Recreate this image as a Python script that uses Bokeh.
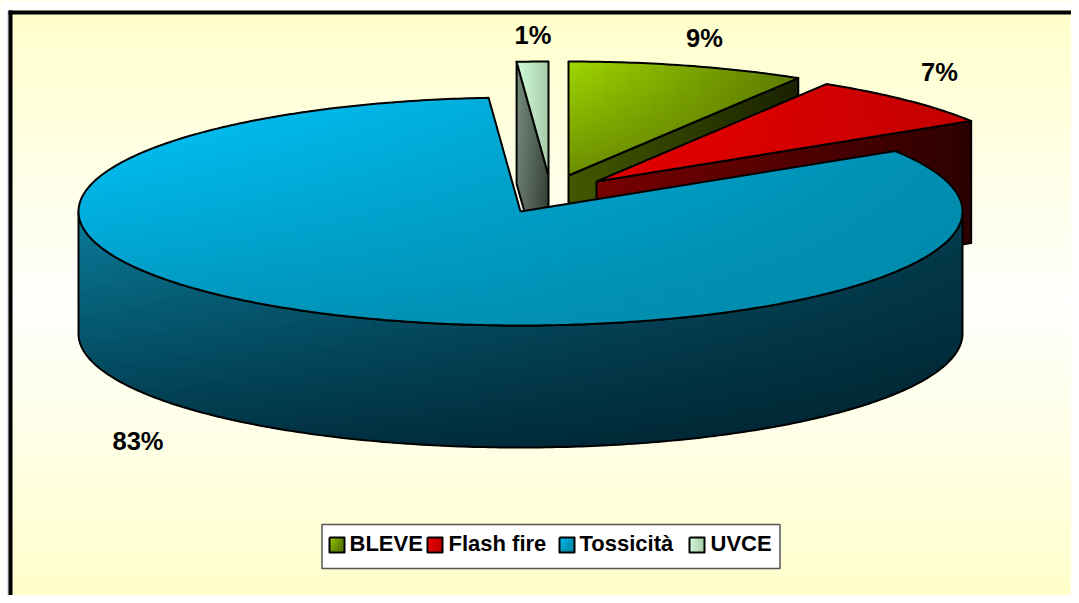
import math
from bokeh.plotting import figure
from bokeh.models import Range1d
from bokeh.core.properties import value
from bokeh.embed import file_html
from bokeh.resources import INLINE

categories = ["BLEVE", "Flash fire", "Tossicità", "UVCE"]
shares = [8.7, 7.4, 82.75, 1.15]
labels = ["9%", "7%", "83%", "1%"]

# layout: one data unit is one pixel of the picture
W, H = 1071, 595
CX, CY, RX, RY, DEPTH = 520.0, 211.0, 442.0, 114.0, 122.0
EXPLODE = {"BLEVE": (48, -36), "Flash fire": (76, -30), "Tossicità": (0, 0), "UVCE": (28, -36)}
TOP = {
    "BLEVE": ("#A0D800", "#5E7C00", "#6C8E00", "#587400"),
    "Flash fire": ("#F00000", "#C00000", "#E00000", "#C80000"),
    "Tossicità": ("#00C8FF", "#0090B4", "#0095BC", "#0088A8"),
    "UVCE": ("#D0FFD8", "#A8CCA8", "#D8F4E0", "#A8CCA8"),
}
WALL = {
    "BLEVE": ("#445800", "#1A2200", "#445800", "#1A2200"),
    "Flash fire": ("#780000", "#2C0000", "#780000", "#2C0000"),
    "Tossicità": ("#0A7C9A", "#033C4E", "#003446", "#00202C"),
    "UVCE": ("#7A9080", "#485850", "#606E64", "#283028"),
}
CELL = {"BLEVE": 6, "Flash fire": 6, "Tossicità": 8, "UVCE": 2}

p = figure(width=W, height=H, output_backend="svg", toolbar_location=None,
           x_range=Range1d(0, W), y_range=Range1d(H, 0), min_border=0,
           outline_line_color=None, background_fill_color="#FFFFCC",
           border_fill_color=None)
p.xaxis.visible = False
p.yaxis.visible = False
p.xgrid.visible = False
p.ygrid.visible = False


def hexrgb(c):
    return tuple(int(c[i:i + 2], 16) for i in (1, 3, 5))


def clip(poly, axis, lim, keep_greater):
    out = []
    n = len(poly)
    for i in range(n):
        a, b = poly[i], poly[(i + 1) % n]
        ina = a[axis] >= lim if keep_greater else a[axis] <= lim
        inb = b[axis] >= lim if keep_greater else b[axis] <= lim
        if ina:
            out.append(a)
        if ina != inb:
            t = (lim - a[axis]) / (b[axis] - a[axis])
            out.append((a[0] + t * (b[0] - a[0]), a[1] + t * (b[1] - a[1])))
    return out


def area(poly):
    return abs(sum(poly[i][0] * poly[(i + 1) % len(poly)][1] - poly[(i + 1) % len(poly)][0] * poly[i][1]
                   for i in range(len(poly)))) / 2


def shaded(poly, corners, cell=8):
    xs0 = [q[0] for q in poly]
    ys0 = [q[1] for q in poly]
    x0, x1, y0, y1 = min(xs0), max(xs0), min(ys0), max(ys0)
    c = [hexrgb(k) for k in corners]
    xs, ys, cols = [], [], []
    x = x0
    while x < x1:
        col = clip(clip(poly, 0, x, True), 0, x + cell, False)
        if col:
            y = y0
            while y < y1:
                piece = clip(clip(col, 1, y, True), 1, y + cell, False)
                if len(piece) > 2 and area(piece) > 0.01:
                    u = min(1, (x + cell / 2 - x0) / max(x1 - x0, 1))
                    v = min(1, (y + cell / 2 - y0) / max(y1 - y0, 1))
                    rgb = [round((1 - u) * (1 - v) * c[0][k] + u * (1 - v) * c[1][k]
                                 + (1 - u) * v * c[2][k] + u * v * c[3][k]) for k in range(3)]
                    xs.append([q[0] for q in piece])
                    ys.append([q[1] for q in piece])
                    cols.append("#%02X%02X%02X" % tuple(rgb))
                y += cell
        x += cell
    p.patches(xs, ys, fill_color=cols, line_color=cols, line_width=1)
    px = xs0 + xs0[:1]
    py = ys0 + ys0[:1]
    p.line(px, py, line_color="#000000", line_width=2, line_join="round")


def pt(theta, ox, oy, dz=0.0):
    t = math.radians(theta)
    return (CX + ox + RX * math.sin(t), CY + oy - RY * math.cos(t) + dz)


def arc(a, b, ox, oy, dz=0.0):
    n = max(2, int(abs(b - a) * 1.5))
    return [pt(a + (b - a) * i / n, ox, oy, dz) for i in range(n + 1)]


# background: pale yellow to white and back
band = 6
ys_bg = list(range(0, H + 1, band))
bg_cols = []
for y in ys_bg:
    f = min(1.0, abs(y - 300) / 290.0)
    bg_cols.append("#FFFF%02X" % round(255 - f * (255 - 0xCC)))
p.quad(left=8, right=W, top=ys_bg, bottom=[y + band for y in ys_bg], fill_color=bg_cols, line_color=None)
p.quad(left=[0], right=[8], top=[0], bottom=[H], fill_color="#FFFFFF", line_color=None)
p.quad(left=[8], right=[W], top=[0], bottom=[10], fill_color="#FFFFFF", line_color=None)

# slice angles, clockwise from twelve o'clock, from the shares
angles = {}
run = 0.0
for name, s in zip(categories, shares):
    angles[name] = (run, run + s * 3.6)
    run += s * 3.6


def apex(name, dz=0.0):
    ox, oy = EXPLODE[name]
    return (CX + ox, CY + oy + dz)


def draw_radial_wall(name, theta):
    ox, oy = EXPLODE[name]
    poly = [apex(name), pt(theta, ox, oy), pt(theta, ox, oy, DEPTH), apex(name, DEPTH)]
    shaded(poly, WALL[name], CELL[name])


def draw_top(name):
    a, b = angles[name]
    ox, oy = EXPLODE[name]
    shaded([apex(name)] + arc(a, b, ox, oy), TOP[name], CELL[name])


# back to front
draw_radial_wall("BLEVE", angles["BLEVE"][1])
draw_top("BLEVE")
draw_radial_wall("UVCE", angles["UVCE"][0])
draw_top("UVCE")
draw_radial_wall("Flash fire", angles["Flash fire"][1])
draw_top("Flash fire")

front = arc(90, 270, 0, 0) + arc(270, 90, 0, 0, DEPTH)
shaded(front, WALL["Tossicità"], CELL["Tossicità"])
draw_top("Tossicità")

# percentage labels
label_at = {"BLEVE": (704, 37.5), "Flash fire": (939, 71.5), "Tossicità": (137.5, 440.5), "UVCE": (532.5, 34.5)}
for name, text in zip(categories, labels):
    x, y = label_at[name]
    p.text([x], [y], text=[text], text_font=value("Liberation Sans"), text_font_style="bold",
           text_font_size="25.5px", text_color="#000000", text_align="center", text_baseline="middle")

# legend
p.quad(left=[321.5], right=[779.5], top=[524], bottom=[568], fill_color="#FFFFFF", line_color="#555555", line_width=1.5)
swatch_x = [329, 427, 559, 689]
text_x = [349, 448, 579, 710]
for name, sx, tx in zip(categories, swatch_x, text_x):
    shaded([(sx, 537), (sx + 15, 537), (sx + 15, 552), (sx, 552)], TOP[name], cell=3)
    p.text([tx], [543], text=[name], text_font=value("Liberation Sans"), text_font_style="bold",
           text_font_size="22px", text_color="#000000", text_align="left", text_baseline="middle")

# chart frame (right and bottom edges fall outside the picture)
p.quad(left=[7], right=[8], top=[10], bottom=[H], fill_color="#C0C0C0", line_color=None)
p.quad(left=[8, 8], right=[12, W], top=[10, 10], bottom=[H, 14], fill_color="#000000", line_color=None)

open("out.html", "w").write(file_html(p, INLINE))
